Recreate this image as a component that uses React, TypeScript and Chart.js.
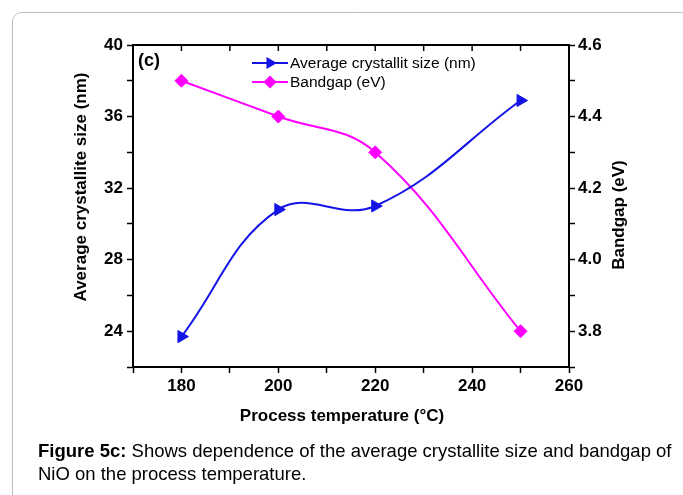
import React, { useEffect, useRef } from "react";
import { Chart, registerables } from "chart.js";

Chart.register(...registerables);

const temperatures = [180, 200, 220, 250];
const crystalliteSize = [23.7, 30.8, 31.0, 36.9];
const bandgap = [4.5, 4.4, 4.3, 3.8];

const xTitle = "Process temperature (°C)";
const yTitle = "Average crystallite size (nm)";
const y1Title = "Bandgap (eV)";
const sizeLabel = "Average crystallit size (nm)";
const gapLabel = "Bandgap (eV)";
const panelLabel = "(c)";
const captionBold = "Figure 5c:";
const captionRest = " Shows dependence of the average crystallite size and bandgap of";
const captionLine2 = "NiO on the process temperature.";

const BLUE = "#1414e6";
const MAGENTA = "#ff00ff";
const FONT = "'Liberation Sans', Arial, sans-serif";

const decorPlugin = {
  id: "decor",
  beforeDraw(chart: any) {
    const ctx = chart.ctx;
    ctx.save();
    ctx.strokeStyle = "#bdbdbd";
    ctx.lineWidth = 1;
    ctx.beginPath();
    const r = 9;
    ctx.moveTo(12.5, 600);
    ctx.lineTo(12.5, 12.5 + r);
    ctx.arcTo(12.5, 12.5, 12.5 + r, 12.5, r);
    ctx.lineTo(800, 12.5);
    ctx.stroke();
    ctx.restore();
  },
  afterDraw(chart: any) {
    const ctx = chart.ctx;
    const a = chart.chartArea;
    const xs = chart.scales.x;
    ctx.save();
    ctx.strokeStyle = "#000";
    ctx.lineWidth = 2;
    ctx.beginPath();
    ctx.moveTo(a.left - 1, a.top);
    ctx.lineTo(a.right + 1, a.top);
    ctx.stroke();
    ctx.lineWidth = 1.5;
    xs.ticks.forEach((t: any) => {
      const px = xs.getPixelForValue(t.value);
      if (px <= a.left + 1 || px >= a.right - 1) return;
      ctx.beginPath();
      ctx.moveTo(px, a.top);
      ctx.lineTo(px, a.top + 6);
      ctx.stroke();
    });

    ctx.fillStyle = "#000";
    ctx.font = `bold 18px ${FONT}`;
    ctx.textBaseline = "middle";
    ctx.textAlign = "left";
    ctx.fillText(panelLabel, 138, 61);

    const drawTri = (cx: number, cy: number, s: number) => {
      ctx.beginPath();
      ctx.moveTo(cx + s, cy);
      ctx.lineTo(cx - s * 0.5, cy - s * 0.866);
      ctx.lineTo(cx - s * 0.5, cy + s * 0.866);
      ctx.closePath();
      ctx.fill();
    };
    const drawDia = (cx: number, cy: number, s: number) => {
      ctx.beginPath();
      ctx.moveTo(cx, cy - s);
      ctx.lineTo(cx + s, cy);
      ctx.lineTo(cx, cy + s);
      ctx.lineTo(cx - s, cy);
      ctx.closePath();
      ctx.fill();
    };
    const rows = [
      { y: 63, color: BLUE, label: sizeLabel, draw: drawTri, s: 7 },
      { y: 82, color: MAGENTA, label: gapLabel, draw: drawDia, s: 6.5 },
    ];
    rows.forEach((row) => {
      ctx.strokeStyle = row.color;
      ctx.fillStyle = row.color;
      ctx.lineWidth = 2;
      ctx.beginPath();
      ctx.moveTo(252, row.y);
      ctx.lineTo(288, row.y);
      ctx.stroke();
      row.draw(270, row.y, row.s);
      ctx.fillStyle = "#000";
      ctx.font = `15.5px ${FONT}`;
      ctx.textAlign = "left";
      ctx.textBaseline = "middle";
      ctx.fillText(row.label, 290, row.y + 1);
    });

    ctx.fillStyle = "#000";
    ctx.font = `bold 17px ${FONT}`;
    ctx.textAlign = "center";
    ctx.textBaseline = "middle";
    ctx.fillText(xTitle, 342, 416);

    ctx.save();
    ctx.translate(81, 187);
    ctx.rotate(-Math.PI / 2);
    ctx.fillText(yTitle, 0, 0);
    ctx.restore();

    ctx.save();
    ctx.translate(619, 215);
    ctx.rotate(-Math.PI / 2);
    ctx.fillText(y1Title, 0, 0);
    ctx.restore();

    ctx.textAlign = "left";
    ctx.textBaseline = "middle";
    ctx.font = `bold 18.5px ${FONT}`;
    ctx.fillText(captionBold, 38, 452);
    const w = ctx.measureText(captionBold).width;
    ctx.font = `18.5px ${FONT}`;
    ctx.fillText(captionRest, 38 + w, 452);
    ctx.fillText(captionLine2, 38, 475);
    ctx.restore();
  },
};

export default function App() {
  const ref = useRef<HTMLCanvasElement | null>(null);

  useEffect(() => {
    if (!ref.current) return;
    const tickFont = { family: FONT, size: 17, weight: "bold" as const };
    const chart = new Chart(ref.current, {
      type: "line",
      data: {
        datasets: [
          {
            label: sizeLabel,
            data: temperatures.map((t, i) => ({ x: t, y: crystalliteSize[i] })),
            yAxisID: "y",
            borderColor: BLUE,
            backgroundColor: BLUE,
            borderWidth: 2,
            pointStyle: "triangle",
            rotation: 90,
            pointRadius: 7,
            pointBorderWidth: 1,
            tension: 0.4,
            fill: false,
          },
          {
            label: gapLabel,
            data: temperatures.map((t, i) => ({ x: t, y: bandgap[i] })),
            yAxisID: "y1",
            borderColor: MAGENTA,
            backgroundColor: MAGENTA,
            borderWidth: 2,
            pointStyle: "rectRot",
            pointRadius: 6.5,
            pointBorderWidth: 1,
            tension: 0.4,
            fill: false,
          },
        ],
      },
      options: {
        responsive: false,
        animation: false,
        layout: { padding: { top: 45, left: 0, right: 0, bottom: 0 } },
        plugins: {
          legend: { display: false },
          tooltip: { enabled: false },
        },
        scales: {
          x: {
            type: "linear",
            position: "bottom",
            min: 170,
            max: 260,
            afterFit: (s: any) => {
              s.height = 128;
            },
            ticks: {
              stepSize: 10,
              color: "#000",
              font: tickFont,
              padding: 3,
              maxRotation: 0,
              autoSkip: false,
              callback: (v: any) => (Math.round(v) % 20 === 0 ? String(v) : ""),
            },
            grid: {
              drawOnChartArea: false,
              drawTicks: true,
              tickLength: 6,
              tickWidth: 1.5,
              tickColor: "#000",
            },
            border: { display: true, color: "#000", width: 2 },
          },
          y: {
            type: "linear",
            position: "left",
            min: 22,
            max: 40,
            afterFit: (s: any) => {
              s.width = 133;
            },
            ticks: {
              stepSize: 2,
              color: "#000",
              font: tickFont,
              padding: 4,
              autoSkip: false,
              callback: (v: any) => (Math.round(v) % 4 === 0 ? String(v) : ""),
            },
            grid: {
              drawOnChartArea: false,
              drawTicks: true,
              tickLength: 6,
              tickWidth: 1.5,
              tickColor: "#000",
            },
            border: { display: true, color: "#000", width: 2 },
          },
          y1: {
            type: "linear",
            position: "right",
            min: 3.7,
            max: 4.6,
            afterFit: (s: any) => {
              s.width = 114;
            },
            ticks: {
              stepSize: 0.1,
              color: "#000",
              font: tickFont,
              padding: 3,
              autoSkip: false,
              callback: (v: any) =>
                Math.round(v * 10) % 2 === 0 ? Number(v).toFixed(1) : "",
            },
            grid: {
              drawOnChartArea: false,
              drawTicks: true,
              tickLength: 6,
              tickWidth: 1.5,
              tickColor: "#000",
            },
            border: { display: true, color: "#000", width: 2 },
          },
        },
      },
      plugins: [decorPlugin],
    });
    return () => chart.destroy();
  }, []);

  return (
    <div style={{ position: "absolute", left: 0, top: 0, width: 683, height: 495, background: "#fff" }}>
      <canvas ref={ref} width={683} height={495} style={{ display: "block" }} />
    </div>
  );
}
